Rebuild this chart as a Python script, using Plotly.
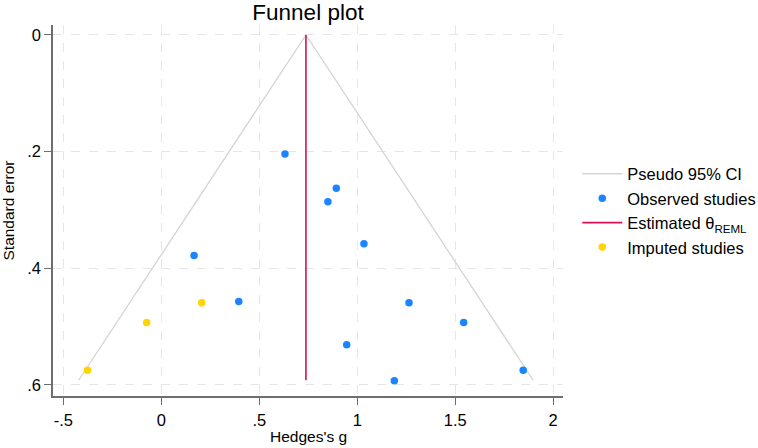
import plotly.graph_objects as go

# ---- data ----
observed_g = [0.631, 0.893, 0.850, 1.034, 0.167, 0.395, 1.264, 1.543, 0.946, 1.189, 1.847]
observed_se = [0.204, 0.263, 0.286, 0.358, 0.378, 0.457, 0.459, 0.493, 0.531, 0.593, 0.575]
imputed_g = [0.206, -0.075, -0.377]
imputed_se = [0.459, 0.493, 0.575]
theta_reml = 0.738
theta_se = [0.0, 0.592]
funnel_g = [-0.422, 0.738, 1.898]
funnel_se = [0.592, 0.0, 0.592]

x_tickvals = [-0.5, 0, 0.5, 1, 1.5, 2]
x_ticktext = ["-.5", "0", ".5", "1", "1.5", "2"]
y_tickvals = [0, 0.2, 0.4, 0.6]
y_ticktext = ["0", ".2", ".4", ".6"]

FONT = "Liberation Sans, Arial, sans-serif"

fig = go.Figure()
fig.add_trace(go.Scatter(
    x=funnel_g, y=funnel_se, mode="lines", name="Pseudo 95% CI",
    line=dict(color="#d4d4d4", width=1.3), hoverinfo="skip"))
fig.add_trace(go.Scatter(
    x=observed_g, y=observed_se, mode="markers", name="Observed studies",
    marker=dict(color="#1a85ff", size=7.5)))
fig.add_trace(go.Scatter(
    x=[theta_reml, theta_reml], y=theta_se, mode="lines",
    name="Estimated θ<sub>REML</sub>",
    line=dict(color="#d41159", width=1.6)))
fig.add_trace(go.Scatter(
    x=imputed_g, y=imputed_se, mode="markers", name="Imputed studies",
    marker=dict(color="#ffd400", size=7.5)))

fig.update_layout(
    width=758, height=448,
    margin=dict(l=53, r=195, t=25, b=52, autoexpand=False),
    paper_bgcolor="white", plot_bgcolor="white",
    font=dict(family=FONT, size=16, color="#000000"),
    title=dict(text="Funnel plot", x=0.5, xref="paper", xanchor="center",
               y=0.973, yref="container", yanchor="middle",
               font=dict(size=22.5, family=FONT, color="#000000")),
    showlegend=True,
    legend=dict(x=1.028, xanchor="left", y=0.5, yanchor="middle",
                font=dict(size=16.5, family=FONT), bgcolor="rgba(0,0,0,0)",
                tracegroupgap=0, itemwidth=40),
    xaxis=dict(range=[-0.553, 2.05], tickvals=x_tickvals, ticktext=x_ticktext,
               showline=True, linecolor="#6e6e6e", linewidth=1.5,
               ticks="outside", ticklen=7, tickcolor="#6e6e6e", tickwidth=1.2,
               ticklabelstandoff=1,
               showgrid=True, gridcolor="#e6e6e6", griddash="dash", gridwidth=1,
               zeroline=False, tickfont=dict(size=16.5)),
    yaxis=dict(range=[0.619, -0.017], tickvals=y_tickvals, ticktext=y_ticktext,
               showline=True, linecolor="#6e6e6e", linewidth=1.5,
               ticks="outside", ticklen=7, tickcolor="#6e6e6e", tickwidth=1.2,
               showgrid=True, gridcolor="#e6e6e6", griddash="dash", gridwidth=1,
               zeroline=False, tickfont=dict(size=16.5)),
    annotations=[
        dict(text="Hedges's g", xref="paper", yref="paper", x=0.5, y=-0.1105,
             xanchor="center", yanchor="middle", showarrow=False,
             font=dict(size=15.5, family=FONT, color="#000000")),
        dict(text="Standard error", xref="paper", yref="paper", x=-0.0882, y=0.5,
             xanchor="center", yanchor="middle", showarrow=False, textangle=-90,
             font=dict(size=15.5, family=FONT, color="#000000")),
    ],
)

fig.write_html("out.html")
